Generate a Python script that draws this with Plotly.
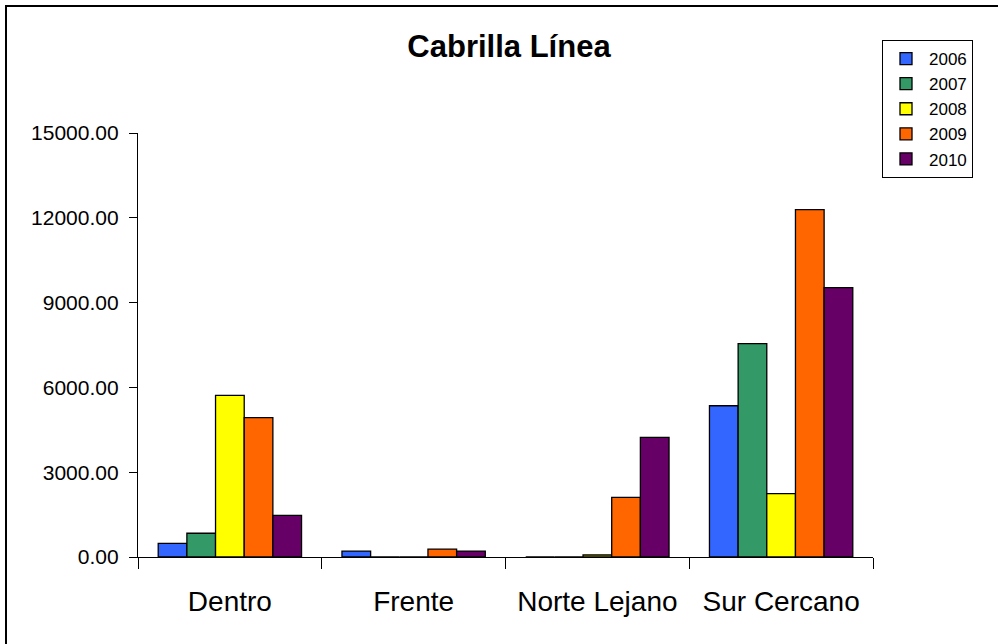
import plotly.graph_objects as go

categories = ["Dentro", "Frente", "Norte Lejano", "Sur Cercano"]
years = ["2006", "2007", "2008", "2009", "2010"]
v2006 = [480, 210, 0, 5350]
v2007 = [840, 0, 0, 7550]
v2008 = [5720, 0, 70, 2240]
v2009 = [4930, 280, 2110, 12290]
v2010 = [1470, 210, 4230, 9530]
series = [v2006, v2007, v2008, v2009, v2010]
colors = ["#3366FF", "#339966", "#FFFF00", "#FF6600", "#660066"]
y_ticks = [0, 3000, 6000, 9000, 12000, 15000]

W, H = 998, 644
ML, MR, MT, MB = 138, 125, 133, 87
PW, PH = W - ML - MR, H - MT - MB
FONT = "Arial, 'Liberation Sans', sans-serif"

fig = go.Figure()
for name, vals, col in zip(years, series, colors):
    fig.add_trace(go.Bar(
        x=categories, y=vals, name=name,
        marker=dict(color=col, line=dict(color="black", width=1.3)),
    ))

fig.update_layout(
    width=W, height=H,
    margin=dict(l=ML, r=MR, t=MT, b=MB, autoexpand=False),
    paper_bgcolor="white", plot_bgcolor="white",
    barmode="group", bargap=0.22, bargroupgap=0,
    font=dict(family=FONT, color="black"),
    title=dict(text="<b>Cabrilla Línea</b>", font=dict(size=31, family=FONT, color="black"),
               xref="container", yref="container", x=509 / W, y=1 - 46 / H,
               xanchor="center", yanchor="middle"),
    legend=dict(xref="container", yref="container", x=882 / W, y=1 - 40 / H,
                xanchor="left", yanchor="top", bordercolor="black", borderwidth=1,
                font=dict(size=17, family=FONT), itemwidth=36, tracegroupgap=0,
                bgcolor="white"),
    xaxis=dict(type="category", tickson="boundaries", ticks="outside", ticklen=11,
               tickcolor="black", tickwidth=1.3, showline=True, linecolor="black",
               linewidth=1.3, showgrid=False, tickfont=dict(size=28, family=FONT),
               ticklabelstandoff=19),
    yaxis=dict(range=[0, 15000], tickvals=y_ticks, tickformat=".2f", ticks="outside",
               ticklen=8, tickcolor="black", tickwidth=1.3, showline=True,
               linecolor="black", linewidth=1.3, showgrid=False, zeroline=False,
               tickfont=dict(size=21, family=FONT), ticklabelstandoff=6),
)

fig.add_shape(type="rect", xref="paper", yref="paper",
              x0=(6 - ML) / PW, x1=(W + 20 - ML) / PW,
              y0=-(MB + 20) / PH, y1=1 + (MT - 6) / PH,
              line=dict(color="black", width=2), layer="above")

fig.write_html("out.html", config={"displayModeBar": False},
               post_script="document.body.style.margin='0';")
